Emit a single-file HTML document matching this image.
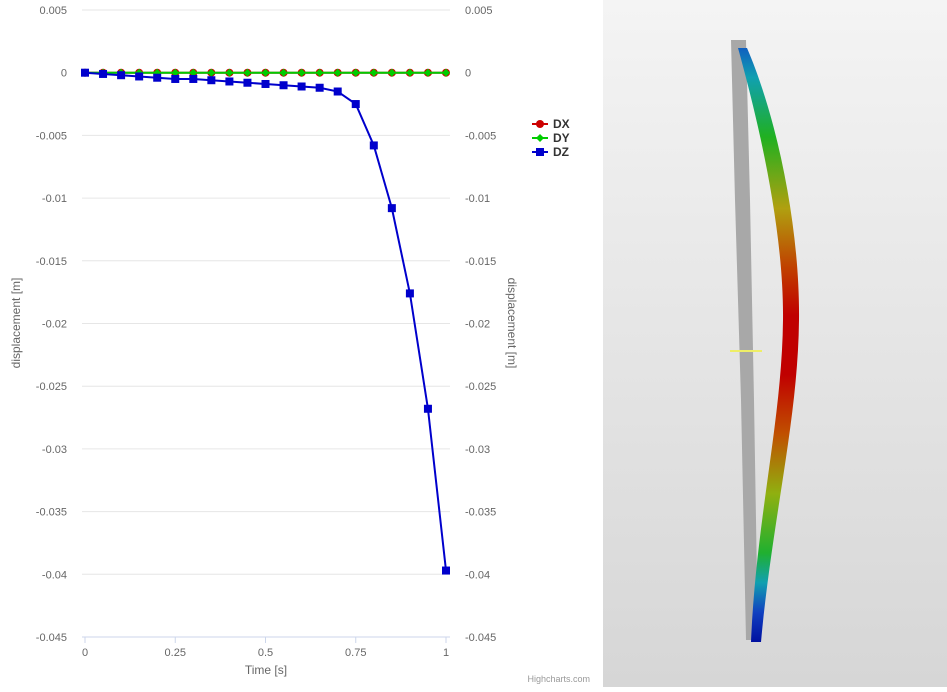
<!DOCTYPE html>
<html><head><meta charset="utf-8">
<style>
body{margin:0;width:947px;height:687px;overflow:hidden;background:#fff;font-family:"Liberation Sans",sans-serif}
svg text{font-family:"Liberation Sans",sans-serif}
</style></head>
<body>
<svg width="947" height="687">
<defs>
<linearGradient id="bg" x1="0" y1="0" x2="0" y2="1"><stop offset="0" stop-color="#f4f4f4"/><stop offset="1" stop-color="#d6d6d6"/></linearGradient>
<linearGradient id="beam" x1="0" y1="0" x2="0" y2="1">
<stop offset="0" stop-color="#1060c0"/><stop offset="0.05" stop-color="#10a0b0"/><stop offset="0.15" stop-color="#20b020"/><stop offset="0.27" stop-color="#b0a010"/><stop offset="0.37" stop-color="#c04000"/><stop offset="0.45" stop-color="#c00000"/><stop offset="0.55" stop-color="#c00000"/><stop offset="0.65" stop-color="#c05000"/><stop offset="0.75" stop-color="#90b010"/><stop offset="0.85" stop-color="#20b030"/><stop offset="0.9" stop-color="#10a0b0"/><stop offset="0.95" stop-color="#1040c0"/><stop offset="1" stop-color="#0010a0"/>
</linearGradient>
</defs>
<g id="grid"></g>
<g id="yl"></g>
<g id="yr"></g>
<g id="xa"></g>
<text x="20" y="323" transform="rotate(-90 20 323)" text-anchor="middle" font-size="12" fill="#666">displacement [m]</text>
<text x="508" y="323" transform="rotate(90 508 323)" text-anchor="middle" font-size="12" fill="#666">displacement [m]</text>
<text x="266" y="674" text-anchor="middle" font-size="12" fill="#666">Time [s]</text>
<g id="series"></g>
<g>
<g><line x1="532" y1="124" x2="548" y2="124" stroke="#c00" stroke-width="2"/><circle cx="540" cy="124" r="4" fill="#c00"/><text x="553" y="128" font-size="12" font-weight="bold" fill="#333">DX</text></g>
<g><line x1="532" y1="138" x2="548" y2="138" stroke="#0c0" stroke-width="2"/><path d="M540 134 L544 138 L540 142 L536 138Z" fill="#0c0"/><text x="553" y="142" font-size="12" font-weight="bold" fill="#333">DY</text></g>
<g><line x1="532" y1="152" x2="548" y2="152" stroke="#00c" stroke-width="2"/><rect x="536" y="148" width="8" height="8" fill="#00c"/><text x="553" y="156" font-size="12" font-weight="bold" fill="#333">DZ</text></g>
</g>
<text x="590" y="682" text-anchor="end" font-size="9" fill="#999">Highcharts.com</text>
<g>
<rect x="603" y="0" width="344" height="687" fill="url(#bg)"/>
<path d="M731 40 L746 40 L750 200 L754 400 L758 640 L746 640 L741 400 L735 200Z" fill="#a8a8a8"/>
<path d="M738 48 L747 48 C778 120 800 230 799 320 C798 420 772 520 761 642 L751 642 C756 520 782 420 783 320 C784 230 758 120 738 48Z" fill="url(#beam)"/>
<line x1="730" y1="351" x2="762" y2="351" stroke="#ee6" stroke-width="2"/>
</g>
</svg>
<script>
const times=[0,0.05,0.1,0.15,0.2,0.25,0.3,0.35,0.4,0.45,0.5,0.55,0.6,0.65,0.7,0.75,0.8,0.85,0.9,0.95,1];
const dx=[0,0,0,0,0,0,0,0,0,0,0,0,0,0,0,0,0,0,0,0,0];
const dy=[0,0,0,0,0,0,0,0,0,0,0,0,0,0,0,0,0,0,0,0,0];
const dz=[0,-0.0001,-0.0002,-0.0003,-0.0004,-0.0005,-0.0005,-0.0006,-0.0007,-0.0008,-0.0009,-0.001,-0.0011,-0.0012,-0.0015,-0.0025,-0.0058,-0.0108,-0.0176,-0.0268,-0.0397];
const yTicks=[0.005,0,-0.005,-0.01,-0.015,-0.02,-0.025,-0.03,-0.035,-0.04,-0.045];
const yLabels=["0.005","0","-0.005","-0.01","-0.015","-0.02","-0.025","-0.03","-0.035","-0.04","-0.045"];
const xTicks=[0,0.25,0.5,0.75,1];
const xLabels=["0","0.25","0.5","0.75","1"];
const NS="http://www.w3.org/2000/svg";
const X=v=>85+v*361, Y=v=>10+(0.005-v)*(627/0.05);
function mk(p,t,a,txt){const e=document.createElementNS(NS,t);for(const k in a)e.setAttribute(k,a[k]);if(txt!==undefined)e.textContent=txt;p.appendChild(e);return e;}
const grid=document.getElementById('grid'),yl=document.getElementById('yl'),yr=document.getElementById('yr'),xa=document.getElementById('xa'),sg=document.getElementById('series');
yTicks.forEach((v,i)=>{
 const g=mk(grid,'line',{x1:82,x2:450,y1:Y(v),y2:Y(v),stroke:i==yTicks.length-1?'#ccd6eb':'#e6e6e6'});
 
 
 const a=mk(yl,'text',{x:67,y:Y(v)+4,'text-anchor':'end','font-size':11,fill:'#666'},yLabels[i]);
 
 
 const b=mk(yr,'text',{x:465,y:Y(v)+4,'font-size':11,fill:'#666'},yLabels[i]);
 
 
});
xTicks.forEach((v,i)=>{
 const t=mk(xa,'line',{x1:X(v),x2:X(v),y1:637,y2:643,stroke:'#ccd6eb'});
 
 
 const l=mk(xa,'text',{x:X(v),y:656,'text-anchor':'middle','font-size':11,fill:'#666'},xLabels[i]);
 
 
});
function series(vals,color,shape,name){
 const g=mk(sg,'g',{});
 
 
 mk(g,'polyline',{points:vals.map((v,i)=>X(times[i])+','+Y(v)).join(' '),fill:'none',stroke:color,'stroke-width':2});
 vals.forEach((v,i)=>{const x=X(times[i]),y=Y(v);let m;
  if(shape=='c')m=mk(g,'circle',{cx:x,cy:y,r:4,fill:color});
  else if(shape=='d')m=mk(g,'path',{d:`M${x} ${y-4}L${x+4} ${y}L${x} ${y+4}L${x-4} ${y}Z`,fill:color});
  else m=mk(g,'rect',{x:x-4,y:y-4,width:8,height:8,fill:color});
  
  
 });
}
series(dx,'#cc0000','c','series-dx');
series(dy,'#00cc00','d','series-dy');
series(dz,'#0000cc','s','series-dz');
</script>
</body></html>
